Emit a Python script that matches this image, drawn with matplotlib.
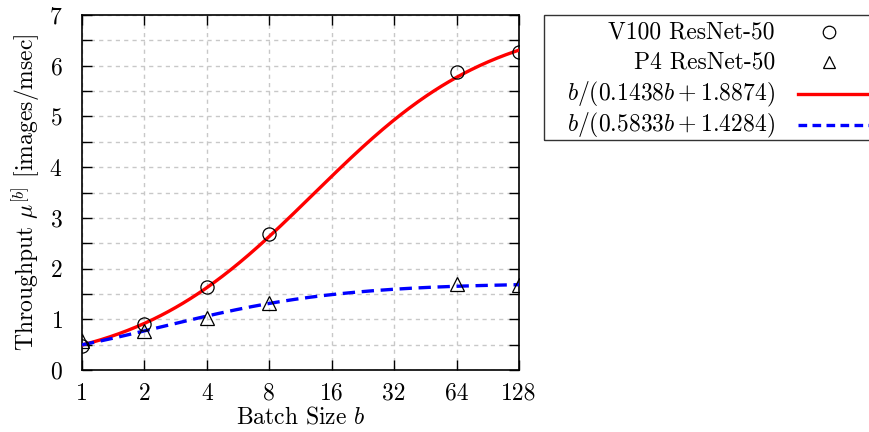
import numpy as np
import matplotlib
matplotlib.use("Agg")
import matplotlib.pyplot as plt
from matplotlib.lines import Line2D
from matplotlib.patches import Rectangle

plt.rcParams['font.family'] = 'serif'
plt.rcParams['font.serif'] = ['cmr10']
plt.rcParams['mathtext.fontset'] = 'cm'
plt.rcParams['axes.formatter.use_mathtext'] = True
plt.rcParams['font.size'] = 17

# measured points
batch = [1, 2, 4, 8, 64, 128]
v100 = [0.48, 0.90, 1.63, 2.68, 5.87, 6.28]
p4 = [0.58, 0.77, 1.03, 1.32, 1.70, 1.68]

# fitted model b/(a*b + c)
v100_fit = (0.1438, 1.8874)
p4_fit = (0.5833, 1.4284)

xticks = [1, 2, 4, 8, 16, 32, 64, 128]
labels = ['V100 ResNet-50', 'P4 ResNet-50',
          r'$b/(0.1438b+1.8874)$', r'$b/(0.5833b+1.4284)$']

W, H = 869, 432
b = np.geomspace(1, 128, 300)

fig = plt.figure(figsize=(W / 100, H / 100), dpi=100)
ax = fig.add_axes([82 / W, 1 - 370 / H, (519 - 82) / W, (370 - 15) / H])

ax.plot(batch, v100, 'o', mfc='none', mec='black', ms=9.5, mew=0.9, zorder=4)
ax.plot(batch, p4, '^', mfc='none', mec='black', ms=9.5, mew=0.9, zorder=4)
ax.plot(b, b / (v100_fit[0] * b + v100_fit[1]), color='red', lw=2.4, zorder=3)
ax.plot(b, b / (p4_fit[0] * b + p4_fit[1]), color='blue', lw=2.4,
        dashes=(3.7, 2.0), zorder=3)

ax.set_xscale('log', base=2)
ax.set_xlim(1, 128)
ax.set_ylim(0, 7)
ax.set_xticks(xticks)
ax.set_xticklabels([str(t) for t in xticks])
ax.xaxis.set_minor_locator(matplotlib.ticker.NullLocator())
ax.set_yticks(range(8))
ax.set_yticks(np.arange(0.5, 7, 1.0), minor=True)

ax.tick_params(which='both', direction='in', top=True, right=True,
               length=7, width=1)
ax.tick_params(axis='x', pad=9)
ax.tick_params(axis='y', pad=14)
ax.grid(True, which='both', color='#c8c8c8', linestyle=(0, (3, 3)), lw=1)
for s in ax.spines.values():
    s.set_linewidth(1.2)

ax.set_xlabel(r'Batch Size $b$', labelpad=1)
ax.set_ylabel(r'Throughput $\mu^{[b]}$ [images/msec]', labelpad=5)


# legend drawn by hand: right-aligned text, sample on the right
def fx(px):
    return px / W


def fy(py):
    return 1 - py / H


fig.add_artist(Rectangle((fx(544), fy(140)), fx(400), (140 - 15) / H,
                         transform=fig.transFigure, fill=False,
                         ec='#333333', lw=1.0))
rows = [32, 62, 94, 125]
for lab, ry in zip(labels, rows):
    fig.text(fx(775), fy(ry), lab, ha='right', va='center')
fig.add_artist(Line2D([fx(829)], [fy(rows[0])], marker='o', mfc='none',
                      mec='black', ms=9, mew=0.9, transform=fig.transFigure))
fig.add_artist(Line2D([fx(829)], [fy(rows[1])], marker='^', mfc='none',
                      mec='black', ms=9, mew=0.9, transform=fig.transFigure))
fig.add_artist(Line2D([fx(798), fx(875)], [fy(rows[2])] * 2, color='red',
                      lw=2.4, transform=fig.transFigure))
fig.add_artist(Line2D([fx(798), fx(875)], [fy(rows[3])] * 2, color='blue',
                      lw=2.4, dashes=(2.6, 1.6), transform=fig.transFigure))

fig.savefig('out.png', dpi=100)
